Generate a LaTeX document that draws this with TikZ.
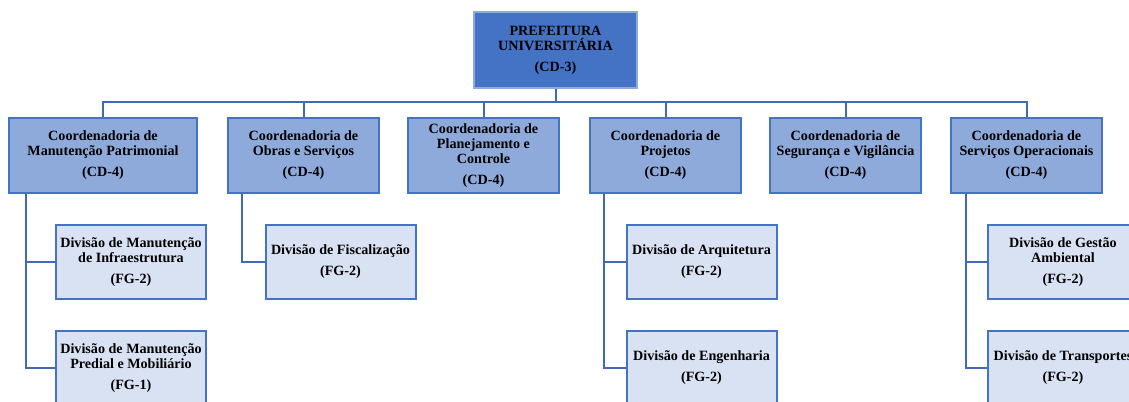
\documentclass[tikz,border=0pt]{standalone}
\usepackage{fontspec}
\setmainfont{Liberation Serif}
\usepackage{tikz}
\usetikzlibrary{positioning}
\definecolor{topblue}{HTML}{4472C4}
\definecolor{midblue}{HTML}{8EAADB}
\definecolor{lowblue}{HTML}{D9E2F3}
\definecolor{lineblue}{HTML}{4269B8}
\newcommand{\cargo}[2]{#1\\[4.5pt]#2}
\tikzstyle{boxNode} = [rectangle, align=center, text centered, inner sep=1pt,
  font=\fontsize{10.6}{11.25}\selectfont\bfseries]
\tikzstyle{chefe} = [boxNode, draw=topblue!60, line width=1.2pt, fill=topblue,
  minimum width=122.25pt, minimum height=57pt]
\tikzstyle{coord} = [boxNode, draw=topblue, line width=1.5pt, fill=midblue,
  minimum width=113.25pt, minimum height=56.25pt]
\tikzstyle{divisao} = [boxNode, draw=topblue, line width=1.5pt, fill=lowblue,
  minimum width=112.5pt, minimum height=55.5pt]
\tikzstyle{liga} = [draw=lineblue, line width=1.5pt]

\begin{document}
\begin{tikzpicture}[x=0.75pt,y=-0.75pt]
            \clip (0,0) rectangle (1129,401);
            \node (pu) at (555.5,50) [chefe] {\cargo{PREFEITURA\\UNIVERSITÁRIA}{(CD-3)}};
            % coordenadorias
            \node (cmp) at (103,155.5) [coord, minimum width=141pt] {\cargo{Coordenadoria de\\Manutenção Patrimonial}{(CD-4)}};
            \node (cos) at (303.5,155.5) [coord] {\cargo{Coordenadoria de\\Obras e Serviços}{(CD-4)}};
            \node (cpc) at (483.5,155.5) [coord] {\cargo{Coordenadoria de\\Planejamento e\\Controle}{(CD-4)}};
            \node (cpj) at (665.5,155.5) [coord] {\cargo{Coordenadoria de\\Projetos}{(CD-4)}};
            \node (csv) at (845.5,155.5) [coord] {\cargo{Coordenadoria de\\Segurança e Vigilância}{(CD-4)}};
            \node (cso) at (1026.5,155.5) [coord] {\cargo{Coordenadoria de\\Serviços Operacionais}{(CD-4)}};
            % divisoes
            \node (dmi) at (131,262) [divisao] {\cargo{Divisão de Manutenção\\de Infraestrutura}{(FG-2)}};
            \node (dmp) at (131,368) [divisao] {\cargo{Divisão de Manutenção\\Predial e Mobiliário}{(FG-1)}};
            \node (dfi) at (340.5,262) [divisao] {\cargo{Divisão de Fiscalização}{(FG-2)}};
            \node (dar) at (701.5,262) [divisao] {\cargo{Divisão de Arquitetura}{(FG-2)}};
            \node (den) at (701.5,368) [divisao] {\cargo{Divisão de Engenharia}{(FG-2)}};
            \node (dga) at (1063,262) [divisao] {\cargo{Divisão de Gestão\\Ambiental}{(FG-2)}};
            \node (dtr) at (1063,368) [divisao] {\cargo{Divisão de Transportes}{(FG-2)}};
            \foreach \c in {cmp,cos,cpc,cpj,csv,cso}
                \draw[liga] (pu.south) -- ++(0,13) -| (\c.north);
            \draw[liga] ([xshift=13.5pt]cmp.south west) |- (dmi.west);
            \draw[liga] ([xshift=13.5pt]cmp.south west) |- (dmp.west);
            \draw[liga] ([xshift=11.25pt]cos.south west) |- (dfi.west);
            \draw[liga] ([xshift=11.25pt]cpj.south west) |- (dar.west);
            \draw[liga] ([xshift=11.25pt]cpj.south west) |- (den.west);
            \draw[liga] ([xshift=12pt]cso.south west) |- (dga.west);
            \draw[liga] ([xshift=12pt]cso.south west) |- (dtr.west);
        \end{tikzpicture}
\end{document}
